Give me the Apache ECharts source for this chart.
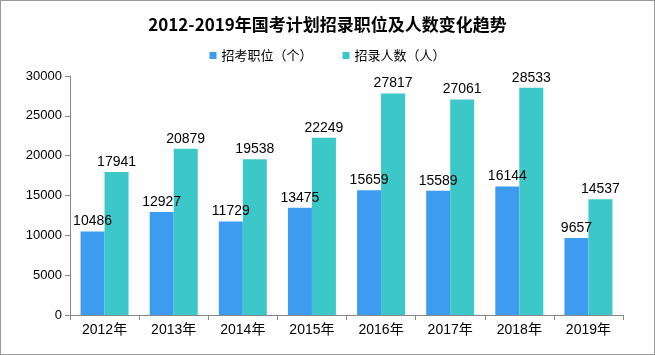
<!DOCTYPE html>
<html><head><meta charset="utf-8">
<script src="https://cdn.jsdelivr.net/npm/echarts@6/dist/echarts.min.js"></script>
<style>html,body{margin:0;padding:0;background:#fff}#c{width:653px;height:353px;border:1px solid #999}</style>
</head><body><div id="c"></div>
<script>
const categories = ['2012年','2013年','2014年','2015年','2016年','2017年','2018年','2019年'];
const positions = [10486,12927,11729,13475,15659,15589,16144,9657];
const recruits = [17941,20879,19538,22249,27817,27061,28533,14537];
const yTicks = [0,5000,10000,15000,20000,25000,30000];
const chart = echarts.init(document.getElementById('c'));
const lbl = {show:true, position:'top', color:'#000', fontSize:14, fontFamily:'"Liberation Sans", Arial, sans-serif', distance:3};
chart.setOption({
  animation:false,
  title:{text:'2012-2019年国考计划招录职位及人数变化趋势', left:'center', top:10,
    textStyle:{fontSize:17, fontWeight:'bold', color:'#000', fontFamily:'"Noto Sans CJK SC", sans-serif'}},
  legend:{top:43, left:'center', itemWidth:7, itemHeight:7, itemGap:30, icon:'rect',
    textStyle:{fontSize:13, color:'#000', fontFamily:'"Noto Sans CJK SC", sans-serif'},
    data:['招考职位（个）','招录人数（人）']},
  grid:{left:69, right:31, top:75, bottom:39},
  xAxis:{type:'category', data:categories,
    axisLine:{lineStyle:{color:'#888'}}, axisTick:{show:true, alignWithLabel:false, lineStyle:{color:'#888'}},
    axisLabel:{color:'#000', fontSize:14, margin:8, fontFamily:'"Liberation Sans", Arial, "Noto Sans CJK SC", sans-serif'}},
  yAxis:{type:'value', min:yTicks[0], max:yTicks[yTicks.length-1], interval:5000,
    axisLine:{show:true, lineStyle:{color:'#888'}}, axisTick:{show:true, lineStyle:{color:'#888'}},
    splitLine:{show:false},
    axisLabel:{color:'#000', fontSize:13, margin:8, formatter:v=>String(v), fontFamily:'"Liberation Sans", Arial, sans-serif'}},
  series:[
    {name:'招考职位（个）', type:'bar', data:positions, barWidth:24, barGap:'0%', itemStyle:{color:'#3e9cf0'}, label:lbl},
    {name:'招录人数（人）', type:'bar', data:recruits, barWidth:24, barGap:'0%', itemStyle:{color:'#3cc8c8'}, label:lbl}
  ]
});
</script></body></html>
